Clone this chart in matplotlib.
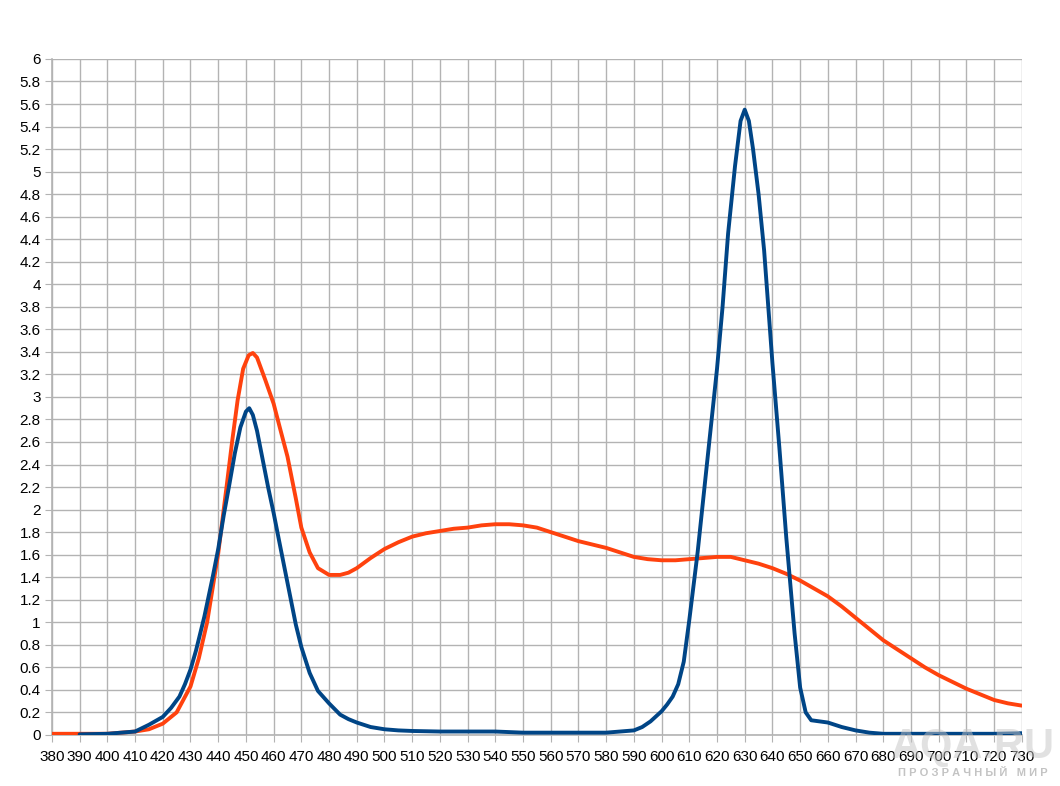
import matplotlib
matplotlib.use("Agg")
import matplotlib.pyplot as plt

# spectrum of lamp 1 (orange)
orange_nm = [380, 390, 400, 405, 410, 415, 420, 425, 430, 433, 436, 440, 443, 445, 447,
             449, 451, 452.5, 454, 457, 460, 462, 465, 468, 470, 473, 476, 480, 484, 487,
             490, 495, 500, 505, 510, 515, 520, 525, 530, 535, 540, 545, 550, 555, 560,
             565, 570, 575, 580, 585, 590, 595, 600, 605, 610, 615, 620, 625, 630, 635,
             640, 645, 650, 655, 660, 665, 670, 675, 680, 685, 690, 695, 700, 705, 710,
             715, 720, 725, 730]
orange_val = [0.01, 0.01, 0.01, 0.02, 0.03, 0.05, 0.1, 0.2, 0.43, 0.68, 1.0, 1.61, 2.2, 2.6, 2.97,
              3.25, 3.37, 3.39, 3.35, 3.15, 2.94, 2.75, 2.47, 2.1, 1.84, 1.62, 1.48, 1.42, 1.42, 1.44,
              1.48, 1.57, 1.65, 1.71, 1.76, 1.79, 1.81, 1.83, 1.84, 1.86, 1.87, 1.87, 1.86, 1.84, 1.8,
              1.76, 1.72, 1.69, 1.66, 1.62, 1.58, 1.56, 1.55, 1.55, 1.56, 1.57, 1.58, 1.58, 1.55, 1.52,
              1.48, 1.43, 1.37, 1.3, 1.23, 1.14, 1.04, 0.94, 0.84, 0.76, 0.68, 0.6, 0.53, 0.47, 0.41,
              0.36, 0.31, 0.28, 0.26]

# spectrum of lamp 2 (blue)
blue_nm = [390, 400, 405, 410, 415, 420, 423, 426, 428, 430, 432, 435, 438, 440, 442,
           444, 446, 448, 450, 451.2, 452.5, 454, 456, 458, 460, 462, 465, 468, 470, 473,
           476, 480, 484, 487, 490, 495, 500, 505, 510, 520, 530, 540, 550, 560, 570,
           580, 585, 590, 593, 596, 600, 602, 604, 606, 608, 610, 613, 616, 620, 622,
           624, 626.5, 628.5, 630, 631.5, 633, 635, 637, 640, 642.5, 645, 648, 650, 652,
           654, 657, 660, 665, 670, 675, 680, 690, 700, 710, 720, 730]
blue_val = [0.005, 0.01, 0.02, 0.03, 0.09, 0.16, 0.24, 0.34, 0.45, 0.58, 0.75, 1.05, 1.4, 1.65, 1.95,
            2.22, 2.5, 2.73, 2.87, 2.9, 2.84, 2.7, 2.45, 2.2, 1.97, 1.72, 1.35, 0.98, 0.78, 0.55,
            0.39, 0.28, 0.18, 0.14, 0.11, 0.07, 0.05, 0.04, 0.035, 0.03, 0.03, 0.03, 0.02, 0.02, 0.02,
            0.02, 0.03, 0.04, 0.07, 0.12, 0.21, 0.27, 0.34, 0.45, 0.65, 1.02, 1.62, 2.32, 3.25, 3.8,
            4.45, 5.05, 5.45, 5.55, 5.45, 5.2, 4.8, 4.3, 3.3, 2.55, 1.75, 0.9, 0.42, 0.2,
            0.13, 0.12, 0.11, 0.07, 0.04, 0.02, 0.01, 0.01, 0.01, 0.01, 0.01, 0.015]

x_ticks = list(range(380, 731, 10))
y_ticks = [i / 5 for i in range(31)]
y_labels = ["0" if v == 0 else ("%g" % round(v, 1)) for v in y_ticks]

plt.rcParams['font.family'] = ['Liberation Sans', 'DejaVu Sans']

fig = plt.figure(figsize=(10.6, 7.86), dpi=100)
ax = fig.add_axes([0.049, 0.065, 0.915, 0.86])

grid_color = '#b3b3b3'
ax.plot(orange_nm, orange_val, color='#ff420e', lw=2.8, solid_joinstyle='round',
        solid_capstyle='round', zorder=3)
ax.plot(blue_nm, blue_val, color='#004586', lw=2.8, solid_joinstyle='round',
        solid_capstyle='round', zorder=4)

ax.set_xlim(380, 730)
ax.set_ylim(0, 6)
ax.set_xticks(x_ticks)
ax.set_xticklabels([str(v) for v in x_ticks])
ax.set_yticks(y_ticks)
ax.set_yticklabels(y_labels)
ax.grid(True, color=grid_color, lw=1)
ax.set_axisbelow(True)
for side in ['top', 'right']:
    ax.spines[side].set_visible(False)
for side in ['left', 'bottom']:
    ax.spines[side].set_color(grid_color)
    ax.spines[side].set_linewidth(1.2)
ax.tick_params(axis='both', length=5, color=grid_color, labelsize=11, labelcolor='#000000')
ax.tick_params(axis='x', pad=6)
ax.tick_params(axis='y', pad=3)

# site watermark drawn over the chart
fig.text(0.918, 0.05, "AQA.RU", fontsize=30, color='#c4c4c4', alpha=0.5,
         ha='center', va='center', fontweight='bold')
fig.text(0.918, 0.017, "П Р О З Р А Ч Н Ы Й   М И Р", fontsize=8, color='#aaaaaa',
         alpha=0.7, ha='center', va='center', fontweight='bold')

fig.savefig("out.png", dpi=100)
